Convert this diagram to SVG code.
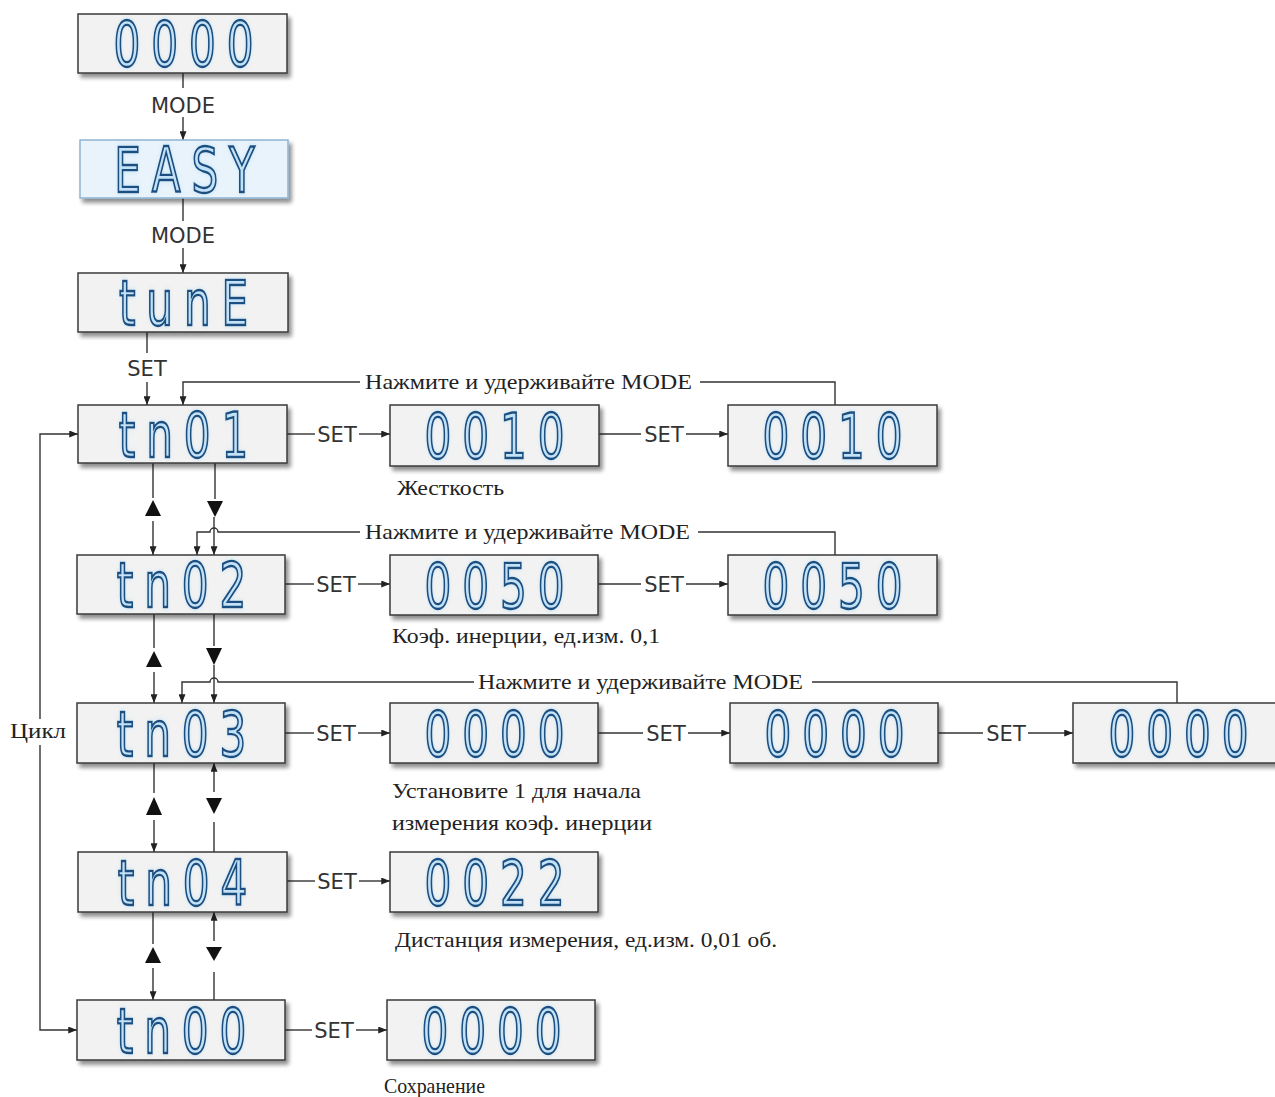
<svg xmlns="http://www.w3.org/2000/svg" width="1275" height="1097" viewBox="0 0 1275 1097">
<style>
.box{fill:#f2f2f2;stroke:#3a3a3a;stroke-width:1.5}
.easy{fill:#e8f3fb;stroke:#8fb5d2;stroke-width:1.5}
.lcd{font-family:"DejaVu Sans",sans-serif;font-size:62px;fill:#c4e2f7;stroke:#1a4f80;stroke-width:2.3;text-anchor:middle;letter-spacing:16px}
.ln{stroke:#333;stroke-width:1.4;fill:none}
.ar{marker-end:url(#ah)}
.tri{fill:#111}
.sans{font-family:"DejaVu Sans",sans-serif;font-size:21px;fill:#333;text-anchor:middle}
.serif{font-family:"Liberation Serif",serif;font-size:22px;fill:#222}
</style>
<defs>
<filter id="sh" x="-10%" y="-20%" width="130%" height="150%">
<feGaussianBlur in="SourceAlpha" stdDeviation="2"/>
<feOffset dx="3" dy="4" result="o"/>
<feComponentTransfer><feFuncA type="linear" slope="0.45"/></feComponentTransfer>
<feMerge><feMergeNode/><feMergeNode in="SourceGraphic"/></feMerge>
</filter>
<filter id="gl" x="-20%" y="-20%" width="140%" height="140%">
<feGaussianBlur in="SourceAlpha" stdDeviation="2.5" result="b"/>
<feFlood flood-color="#9fd3f5" flood-opacity="0.55"/>
<feComposite in2="b" operator="in"/>
<feMerge><feMergeNode/><feMergeNode in="SourceGraphic"/></feMerge>
</filter>
<marker id="ah" viewBox="0 0 10 8" refX="10" refY="4" markerWidth="9" markerHeight="7" markerUnits="userSpaceOnUse" orient="auto"><path d="M0,0 L10,4 L0,8 z" fill="#222"/></marker>
</defs>

<g id="connectors">
<path class="ln" d="M183,73 V88"/>
<text class="sans" x="183" y="113">MODE</text>
<path class="ln ar" d="M183,117 V140"/>
<path class="ln" d="M183,198 V221"/>
<text class="sans" x="183" y="243">MODE</text>
<path class="ln ar" d="M183,248 V273"/>
<path class="ln" d="M147,332 V353"/>
<text class="sans" x="147" y="376">SET</text>
<path class="ln ar" d="M147,382 V405"/>

<path class="ln" d="M835,405 V382 H700"/>
<text class="serif" x="365" y="389" textLength="327" lengthAdjust="spacingAndGlyphs">Нажмите и удерживайте MODE</text>
<path class="ln ar" d="M360,382 H183 V405"/>
<path class="ln" d="M835,555 V532 H698"/>
<text class="serif" x="365" y="539" textLength="325" lengthAdjust="spacingAndGlyphs">Нажмите и удерживайте MODE</text>
<path class="ln ar" d="M360,532 H218 A4,4 0 0 0 210,532 H197 V555"/>
<path class="ln" d="M1177,703 V682 H812"/>
<text class="serif" x="478" y="689" textLength="325" lengthAdjust="spacingAndGlyphs">Нажмите и удерживайте MODE</text>
<path class="ln ar" d="M474,682 H218 A4,4 0 0 0 210,682 H182 V703"/>

<path class="ln" d="M287,434 H315"/>
<text class="sans" x="337" y="442">SET</text>
<path class="ln ar" d="M359,434 H390"/>
<path class="ln" d="M599,434 H641"/>
<text class="sans" x="664" y="442">SET</text>
<path class="ln ar" d="M686,434 H728"/>
<path class="ln" d="M285,584 H314"/>
<text class="sans" x="336" y="592">SET</text>
<path class="ln ar" d="M358,584 H390"/>
<path class="ln" d="M598,584 H641"/>
<text class="sans" x="664" y="592">SET</text>
<path class="ln ar" d="M686,584 H728"/>
<path class="ln" d="M285,733 H314"/>
<text class="sans" x="336" y="741">SET</text>
<path class="ln ar" d="M358,733 H390"/>
<path class="ln" d="M598,733 H643"/>
<text class="sans" x="666" y="741">SET</text>
<path class="ln ar" d="M688,733 H730"/>
<path class="ln" d="M938,733 H983"/>
<text class="sans" x="1006" y="741">SET</text>
<path class="ln ar" d="M1028,733 H1073"/>
<path class="ln" d="M287,881 H315"/>
<text class="sans" x="337" y="889">SET</text>
<path class="ln ar" d="M359,881 H390"/>
<path class="ln" d="M285,1030 H312"/>
<text class="sans" x="334" y="1038">SET</text>
<path class="ln ar" d="M356,1030 H387"/>

<path class="ln" d="M153,463 V498"/>
<polygon class="tri" points="153,500 145,516 161,516"/>
<path class="ln ar" d="M153,521 V555"/>
<path class="ln" d="M215,463 V499"/>
<polygon class="tri" points="207,501 223,501 215,517"/>
<path class="ln ar" d="M214,517 V555"/>
<path class="ln" d="M154,614 V648"/>
<polygon class="tri" points="154,651 146,667 162,667"/>
<path class="ln ar" d="M154,672 V703"/>
<path class="ln" d="M214,614 V646"/>
<polygon class="tri" points="206,648 222,648 214,665"/>
<path class="ln ar" d="M214,665 V703"/>
<path class="ln" d="M154,763 V793"/>
<polygon class="tri" points="154,797 146,815 162,815"/>
<path class="ln ar" d="M154,820 V852"/>
<path class="ln ar" d="M214,792 V763"/>
<polygon class="tri" points="206,798 222,798 214,814"/>
<path class="ln" d="M214,822 V852"/>
<path class="ln" d="M153,912 V944"/>
<polygon class="tri" points="153,947 145,963 161,963"/>
<path class="ln ar" d="M153,968 V1000"/>
<path class="ln ar" d="M214,941 V912"/>
<polygon class="tri" points="206,947 222,947 214,961"/>
<path class="ln" d="M214,972 V1000"/>

<path class="ln ar" d="M40,719 V434 H78"/>
<text class="serif" x="10" y="738" textLength="56" lengthAdjust="spacingAndGlyphs">Цикл</text>
<path class="ln ar" d="M40,745 V1030 H77"/>
</g>

<g id="labels">
<text class="serif" x="397" y="495" textLength="107" lengthAdjust="spacingAndGlyphs">Жесткость</text>
<text class="serif" x="392" y="643" textLength="268" lengthAdjust="spacingAndGlyphs">Коэф. инерции, ед.изм. 0,1</text>
<text class="serif" x="392" y="798" textLength="249" lengthAdjust="spacingAndGlyphs">Установите 1 для начала</text>
<text class="serif" x="392" y="830" textLength="260" lengthAdjust="spacingAndGlyphs">измерения коэф. инерции</text>
<text class="serif" x="395" y="947" textLength="382" lengthAdjust="spacingAndGlyphs">Дистанция измерения, ед.изм. 0,01 об.</text>
<text class="serif" x="384" y="1093" textLength="101" lengthAdjust="spacingAndGlyphs">Сохранение</text>
</g>

<g id="d-0000-top"><rect class="box" filter="url(#sh)" x="78" y="14" width="209" height="59"/><text class="lcd" filter="url(#gl)" transform="translate(189,66) scale(0.68,1)">0000</text></g>
<g id="d-easy"><rect class="easy" filter="url(#sh)" x="80" y="140" width="208" height="58"/><text class="lcd" filter="url(#gl)" transform="translate(190,192) scale(0.68,1)">EASY</text></g>
<g id="d-tune"><rect class="box" filter="url(#sh)" x="78" y="273" width="210" height="59"/><text class="lcd" filter="url(#gl)" transform="translate(189,325) scale(0.68,1)">tunE</text></g>
<g id="d-tn01"><rect class="box" filter="url(#sh)" x="78" y="405" width="209" height="58"/><text class="lcd" filter="url(#gl)" transform="translate(189,457) scale(0.68,1)">tn01</text></g>
<g id="d-tn02"><rect class="box" filter="url(#sh)" x="77" y="555" width="208" height="59"/><text class="lcd" filter="url(#gl)" transform="translate(187,607) scale(0.68,1)">tn02</text></g>
<g id="d-tn03"><rect class="box" filter="url(#sh)" x="77" y="703" width="208" height="60"/><text class="lcd" filter="url(#gl)" transform="translate(187,756) scale(0.68,1)">tn03</text></g>
<g id="d-tn04"><rect class="box" filter="url(#sh)" x="78" y="852" width="209" height="60"/><text class="lcd" filter="url(#gl)" transform="translate(188,905) scale(0.68,1)">tn04</text></g>
<g id="d-tn00"><rect class="box" filter="url(#sh)" x="77" y="1000" width="208" height="60"/><text class="lcd" filter="url(#gl)" transform="translate(187,1053) scale(0.68,1)">tn00</text></g>

<g id="v-0010-a"><rect class="box" filter="url(#sh)" x="390" y="405" width="209" height="61"/><text class="lcd" filter="url(#gl)" transform="translate(500,458) scale(0.68,1)">0010</text></g>
<g id="v-0010-b"><rect class="box" filter="url(#sh)" x="728" y="405" width="209" height="61"/><text class="lcd" filter="url(#gl)" transform="translate(838,458) scale(0.68,1)">0010</text></g>
<g id="v-0050-a"><rect class="box" filter="url(#sh)" x="390" y="555" width="208" height="60"/><text class="lcd" filter="url(#gl)" transform="translate(500,608) scale(0.68,1)">0050</text></g>
<g id="v-0050-b"><rect class="box" filter="url(#sh)" x="728" y="555" width="209" height="60"/><text class="lcd" filter="url(#gl)" transform="translate(838,608) scale(0.68,1)">0050</text></g>
<g id="v-0000-a"><rect class="box" filter="url(#sh)" x="390" y="703" width="208" height="60"/><text class="lcd" filter="url(#gl)" transform="translate(500,756) scale(0.68,1)">0000</text></g>
<g id="v-0000-b"><rect class="box" filter="url(#sh)" x="730" y="703" width="208" height="60"/><text class="lcd" filter="url(#gl)" transform="translate(840,756) scale(0.68,1)">0000</text></g>
<g id="v-0000-c"><rect class="box" filter="url(#sh)" x="1073" y="703" width="210" height="60"/><text class="lcd" filter="url(#gl)" transform="translate(1184,756) scale(0.68,1)">0000</text></g>
<g id="v-0022"><rect class="box" filter="url(#sh)" x="390" y="852" width="208" height="60"/><text class="lcd" filter="url(#gl)" transform="translate(500,905) scale(0.68,1)">0022</text></g>
<g id="v-0000-save"><rect class="box" filter="url(#sh)" x="387" y="1000" width="208" height="60"/><text class="lcd" filter="url(#gl)" transform="translate(497,1053) scale(0.68,1)">0000</text></g>
</svg>
